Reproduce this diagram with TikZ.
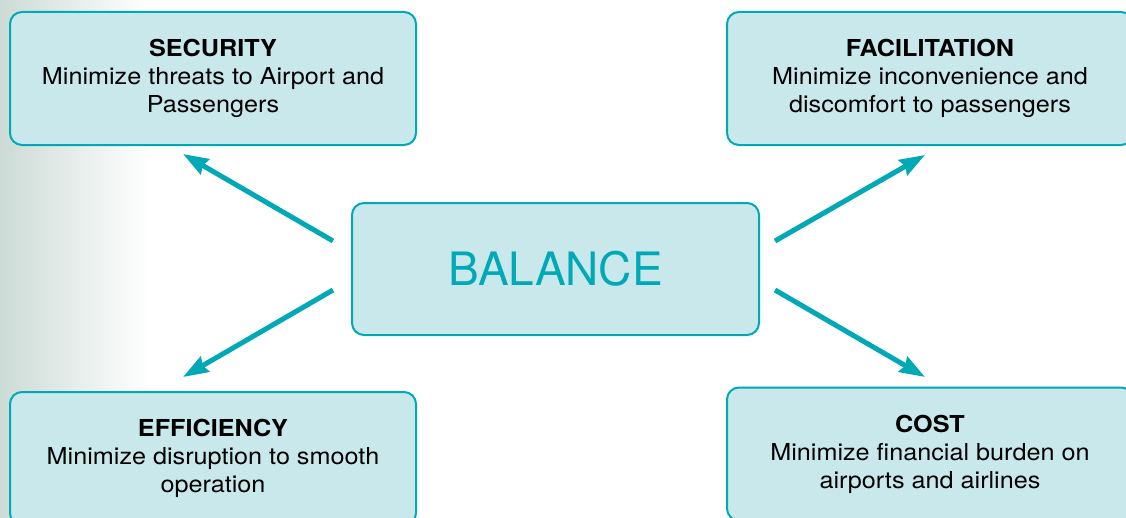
\documentclass[tikz,border=0pt]{standalone}
\usepackage{fontspec}
\setmainfont{TeX Gyre Heros}
\newfontfamily\bodyfont[FakeStretch=1.08]{TeX Gyre Heros}
\usetikzlibrary{arrows.meta}
\definecolor{tealline}{RGB}{0,169,181}
\definecolor{boxfill}{RGB}{200,232,235}
\definecolor{haze}{RGB}{204,219,214}
\begin{document}
\begin{tikzpicture}[x=0.75pt,y=-0.75pt,
  goal/.style={draw=tealline,line width=1.5pt,fill=boxfill,rounded corners=9pt,
    minimum width=304.5pt,minimum height=99.75pt,inner sep=0pt,align=center,
    font=\bodyfont\fontsize{17.5}{21}\selectfont},
  pull/.style={draw=tealline,line width=3.75pt,
    -{Stealth[length=19pt,width=13pt,inset=2pt]}}]
\useasboundingbox (0,0) rectangle (1126,517);
\clip (0,0) rectangle (1126,517);
\shade[left color=haze,right color=white] (0,0) rectangle (150,517);
% four aims round the centre
\node[goal] (security) at (213,78.5) {\textbf{SECURITY}\\Minimize threats to Airport and\\Passengers};
\node[goal] (facilitation) at (930,78.5) {\textbf{FACILITATION}\\Minimize inconvenience and\\discomfort to passengers};
\node[goal] (efficiency) at (213,458.5) {\textbf{EFFICIENCY}\\Minimize disruption to smooth\\operation};
\node[goal] (cost) at (930,454) {\textbf{COST}\\Minimize financial burden on\\airports and airlines};
\node[goal,minimum width=305.25pt,minimum height=99pt,text=tealline,
  font=\rmfamily\fontsize{34.5}{40}\selectfont] (balance) at (555.5,269) {BALANCE};
% arrow ends
\coordinate (fromsec) at (333,241);
\coordinate (tosec) at (183,154);
\coordinate (fromfac) at (775,241);
\coordinate (tofac) at (925,155);
\coordinate (fromeff) at (333,290);
\coordinate (toeff) at (183,377);
\coordinate (fromcost) at (775,290);
\coordinate (tocost) at (925,377);
\draw[pull] (fromsec) -- (tosec);
\draw[pull] (fromfac) -- (tofac);
\draw[pull] (fromeff) -- (toeff);
\draw[pull] (fromcost) -- (tocost);
\end{tikzpicture}
\end{document}
